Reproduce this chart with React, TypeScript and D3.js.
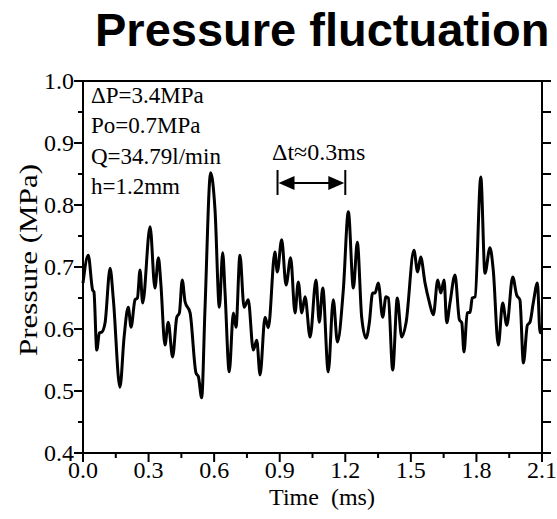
import React from "react";
import * as d3 from "d3";

const times = [0, 0.024, 0.044, 0.050, 0.063, 0.075, 0.086, 0.101, 0.124, 0.139, 0.169, 0.188, 0.207, 0.220, 0.238, 0.249, 0.261, 0.273, 0.307, 0.329, 0.345, 0.356, 0.375, 0.390, 0.410, 0.429, 0.441, 0.454, 0.467, 0.490, 0.517, 0.528, 0.543, 0.558, 0.584, 0.604, 0.624, 0.639, 0.650, 0.669, 0.688, 0.700, 0.718, 0.737, 0.756, 0.779, 0.795, 0.810, 0.833, 0.848, 0.878, 0.889, 0.909, 0.929, 0.950, 0.970, 0.985, 1.001, 1.016, 1.039, 1.066, 1.081, 1.097, 1.122, 1.145, 1.164, 1.191, 1.214, 1.237, 1.255, 1.275, 1.295, 1.310, 1.325, 1.336, 1.351, 1.371, 1.386, 1.397, 1.417, 1.438, 1.458, 1.478, 1.514, 1.531, 1.545, 1.565, 1.584, 1.603, 1.623, 1.637, 1.652, 1.664, 1.679, 1.702, 1.722, 1.733, 1.743, 1.758, 1.771, 1.781, 1.794, 1.820, 1.839, 1.862, 1.877, 1.900, 1.920, 1.939, 1.966, 1.984, 1.999, 2.015, 2.033, 2.045, 2.060, 2.079, 2.091, 2.099];

const pressure = [0.674, 0.719, 0.663, 0.660, 0.566, 0.594, 0.595, 0.610, 0.698, 0.647, 0.506, 0.587, 0.635, 0.603, 0.647, 0.650, 0.695, 0.642, 0.765, 0.666, 0.715, 0.674, 0.574, 0.611, 0.555, 0.619, 0.626, 0.679, 0.644, 0.626, 0.529, 0.523, 0.489, 0.631, 0.852, 0.792, 0.635, 0.723, 0.658, 0.531, 0.626, 0.603, 0.719, 0.635, 0.647, 0.566, 0.582, 0.526, 0.619, 0.602, 0.724, 0.692, 0.744, 0.671, 0.715, 0.626, 0.676, 0.626, 0.652, 0.587, 0.679, 0.611, 0.666, 0.531, 0.647, 0.579, 0.663, 0.789, 0.666, 0.740, 0.619, 0.585, 0.610, 0.658, 0.658, 0.674, 0.619, 0.652, 0.650, 0.534, 0.650, 0.587, 0.610, 0.727, 0.692, 0.716, 0.674, 0.644, 0.623, 0.679, 0.658, 0.679, 0.610, 0.642, 0.687, 0.615, 0.610, 0.563, 0.626, 0.627, 0.650, 0.652, 0.845, 0.690, 0.731, 0.695, 0.574, 0.642, 0.606, 0.684, 0.655, 0.647, 0.545, 0.606, 0.611, 0.642, 0.674, 0.594, 0.598];

const xTicks = [0, 0.3, 0.6, 0.9, 1.2, 1.5, 1.8, 2.1];
const xTickLabels = ["0.0", "0.3", "0.6", "0.9", "1.2", "1.5", "1.8", "2.1"];
const xMinor = [0.15, 0.45, 0.75, 1.05, 1.35, 1.65, 1.95];
const yTicks = [0.4, 0.5, 0.6, 0.7, 0.8, 0.9, 1.0];
const yTickLabels = ["0.4", "0.5", "0.6", "0.7", "0.8", "0.9", "1.0"];
const yMinor = [0.45, 0.55, 0.65, 0.75, 0.85, 0.95];

const notes = ["ΔP=3.4MPa", "Po=0.7MPa", "Q=34.79l/min", "h=1.2mm"];
const deltaT = [0.89, 1.2];
const deltaLabel = "Δt≈0.3ms";

const W = 557, H = 519;
const M = { left: 83, right: 15, top: 81, bottom: 66 };
const serif = "Liberation Serif, Times New Roman, serif";

export default function App() {
  const x = d3.scaleLinear().domain([0, 2.1]).range([M.left, W - M.right]);
  const y = d3.scaleLinear().domain([0.4, 1.0]).range([H - M.bottom, M.top]);
  const line = d3
    .line<number>()
    .x((_, i) => x(times[i]))
    .y((d) => y(d))
    .curve(d3.curveMonotoneX);
  const x0 = x(0), x1 = x(2.1), y0 = y(0.4), y1 = y(1.0);
  const ay = 183;
  const ax0 = x(deltaT[0]), ax1 = x(deltaT[1]);
  return (
    <svg width={W} height={H} style={{ position: "absolute", left: 0, top: 0, background: "#fff" }}>
      <text x={95} y={46} fontFamily="Liberation Sans, Arial, sans-serif" fontWeight="bold" fontSize={47} fill="#000">
        Pressure fluctuation
      </text>
      <path d={line(pressure) || ""} fill="none" stroke="#000" strokeWidth={3} strokeLinejoin="round" />
      <rect x={x0} y={y1} width={x1 - x0} height={y0 - y1} fill="none" stroke="#000" strokeWidth={2} />
      {xTicks.map((t, i) => (
        <g key={"xt" + i}>
          <line x1={x(t)} x2={x(t)} y1={y0} y2={y0 + 9} stroke="#000" strokeWidth={2} />
          <text x={x(t)} y={478} textAnchor="middle" fontFamily={serif} fontSize={24}>{xTickLabels[i]}</text>
        </g>
      ))}
      {xMinor.map((t, i) => (
        <line key={"xm" + i} x1={x(t)} x2={x(t)} y1={y0} y2={y0 + 5} stroke="#000" strokeWidth={2} />
      ))}
      {yTicks.map((v, i) => (
        <g key={"yt" + i}>
          <line x1={x0 - 9} x2={x0} y1={y(v)} y2={y(v)} stroke="#000" strokeWidth={2} />
          <line x1={x1} x2={x1 + 9} y1={y(v)} y2={y(v)} stroke="#000" strokeWidth={2} />
          <text x={74} y={y(v) + 8} textAnchor="end" fontFamily={serif} fontSize={24}>{yTickLabels[i]}</text>
        </g>
      ))}
      {yMinor.map((v, i) => (
        <g key={"ym" + i}>
          <line x1={x0 - 5} x2={x0} y1={y(v)} y2={y(v)} stroke="#000" strokeWidth={2} />
          <line x1={x1} x2={x1 + 9} y1={y(v)} y2={y(v)} stroke="#000" strokeWidth={2} />
        </g>
      ))}
      <text x={322} y={505} textAnchor="middle" fontFamily={serif} fontSize={24} xmlSpace="preserve">Time  (ms)</text>
      <text transform={`translate(37, 260) rotate(-90)`} textAnchor="middle" fontFamily={serif} fontSize={25} textLength={192} lengthAdjust="spacingAndGlyphs">Pressure (MPa)</text>
      {notes.map((n, i) => (
        <text key={"n" + i} x={91} y={103 + i * 30.3} fontFamily={serif} fontSize={23}>{n}</text>
      ))}
      <text x={272} y={160} fontFamily={serif} fontSize={24}>{deltaLabel}</text>
      <line x1={ax0} x2={ax0} y1={170} y2={195} stroke="#000" strokeWidth={2} />
      <line x1={ax1} x2={ax1} y1={170} y2={195} stroke="#000" strokeWidth={2} />
      <line x1={ax0 + 10} x2={ax1 - 10} y1={ay} y2={ay} stroke="#000" strokeWidth={2.2} />
      <path d={`M${ax0 + 1},${ay} L${ax0 + 17},${ay - 7} L${ax0 + 17},${ay + 7} Z`} fill="#000" />
      <path d={`M${ax1 - 1},${ay} L${ax1 - 17},${ay - 7} L${ax1 - 17},${ay + 7} Z`} fill="#000" />
    </svg>
  );
}
